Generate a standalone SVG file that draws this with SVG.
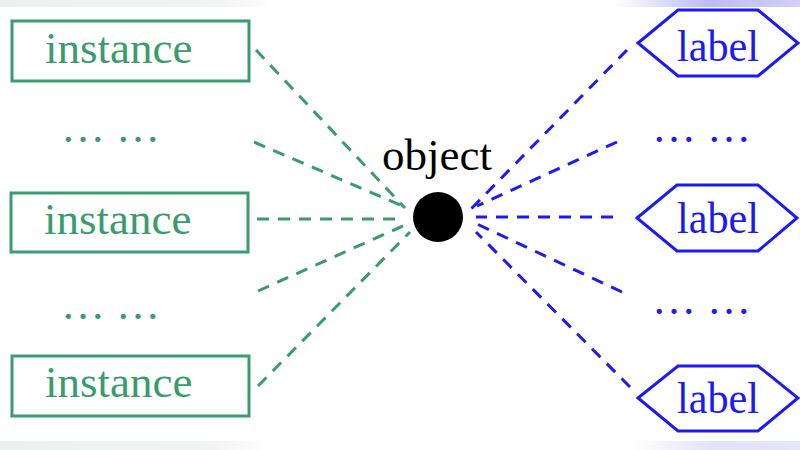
<svg xmlns="http://www.w3.org/2000/svg" width="800" height="450" viewBox="0 0 800 450">
  <defs>
    <linearGradient id="bandL" x1="0" y1="0" x2="1" y2="0">
      <stop offset="0" stop-color="#eaf1ee"/>
      <stop offset="0.8" stop-color="#f1f5f3"/>
      <stop offset="1" stop-color="#ffffff"/>
    </linearGradient>
    <linearGradient id="bandR" x1="0" y1="0" x2="1" y2="0">
      <stop offset="0" stop-color="#ffffff"/>
      <stop offset="0.5" stop-color="#bcbcf6"/>
      <stop offset="1" stop-color="#d0d0f8"/>
    </linearGradient>
    <linearGradient id="bandRb" x1="0" y1="0" x2="1" y2="0">
      <stop offset="0" stop-color="#ffffff"/>
      <stop offset="0.5" stop-color="#e2e2fa"/>
      <stop offset="1" stop-color="#e6e6f8"/>
    </linearGradient>
  </defs>
  <style>
    text { font-family: "Liberation Serif", "Times New Roman", serif; }
    .inst rect { fill: #ffffff; stroke: #3a9b6c; stroke-width: 3; }
    .inst text { fill: #3a9b6c; font-size: 45px; }
    .lbl polygon { fill: #ffffff; stroke: #1a1af5; stroke-width: 3; stroke-linejoin: miter; }
    .lbl text { fill: #1a1af5; font-size: 45px; text-anchor: middle; }
    .gdots { fill: #3a9b6c; font-size: 44px; }
    .bdots { fill: #1a1af5; font-size: 44px; }
    .g line { stroke: #3a9b6c; stroke-width: 3; stroke-dasharray: 12 9; fill: none; }
    .b line { stroke: #1a1af5; stroke-width: 3; stroke-dasharray: 12 9; fill: none; }
  </style>
  <rect x="0" y="0" width="800" height="450" fill="#ffffff"/>
  <rect x="0" y="0" width="275" height="7" fill="url(#bandL)"/>
  <rect x="615" y="0" width="185" height="7" fill="url(#bandR)"/>
  <rect x="0" y="441" width="270" height="9" fill="url(#bandL)"/>
  <rect x="630" y="441" width="170" height="9" fill="url(#bandRb)"/>

  <g id="connectors">
    <g class="g">
      <line x1="256" y1="50" x2="405" y2="208"/>
      <line x1="254" y1="142" x2="400" y2="205"/>
      <line x1="257" y1="219" x2="400" y2="219"/>
      <line x1="258" y1="291" x2="405" y2="225"/>
      <line x1="258" y1="386" x2="410" y2="232"/>
    </g>
    <g class="b">
      <line x1="627" y1="50" x2="470" y2="210"/>
      <line x1="617" y1="142" x2="477" y2="206"/>
      <line x1="613" y1="217" x2="476" y2="217"/>
      <line x1="622" y1="292" x2="477" y2="224"/>
      <line x1="630" y1="387" x2="476" y2="232"/>
    </g>
  </g>

  <g id="instance1" class="inst">
    <rect x="12" y="21" width="237" height="60"/>
    <text x="45" y="63">instance</text>
  </g>
  <g id="instance2" class="inst">
    <rect x="11" y="193" width="237" height="59"/>
    <text x="44" y="234">instance</text>
  </g>
  <g id="instance3" class="inst">
    <rect x="12" y="356" width="237" height="60"/>
    <text x="45" y="397">instance</text>
  </g>
  <text id="dots-left-1" class="gdots" x="61" y="142">… …</text>
  <text id="dots-left-2" class="gdots" x="61" y="319">… …</text>

  <g id="object">
    <circle cx="438" cy="217" r="25" fill="#000000"/>
    <text x="437" y="170" font-size="45" text-anchor="middle" fill="#000000">object</text>
  </g>

  <g id="label1" class="lbl">
    <polygon points="638,43 678,10 758,10 798,43 758,76 678,76"/>
    <text x="718" y="61" textLength="82" lengthAdjust="spacingAndGlyphs">label</text>
  </g>
  <g id="label2" class="lbl">
    <polygon points="637,218 677,185 758,185 797,218 758,251 677,251"/>
    <text x="718" y="233" textLength="82" lengthAdjust="spacingAndGlyphs">label</text>
  </g>
  <g id="label3" class="lbl">
    <polygon points="638,398 678,366 758,366 798,398 758,431 678,431"/>
    <text x="718" y="413" textLength="82" lengthAdjust="spacingAndGlyphs">label</text>
  </g>
  <text id="dots-right-1" class="bdots" x="652" y="142">… …</text>
  <text id="dots-right-2" class="bdots" x="652" y="314">… …</text>
</svg>
